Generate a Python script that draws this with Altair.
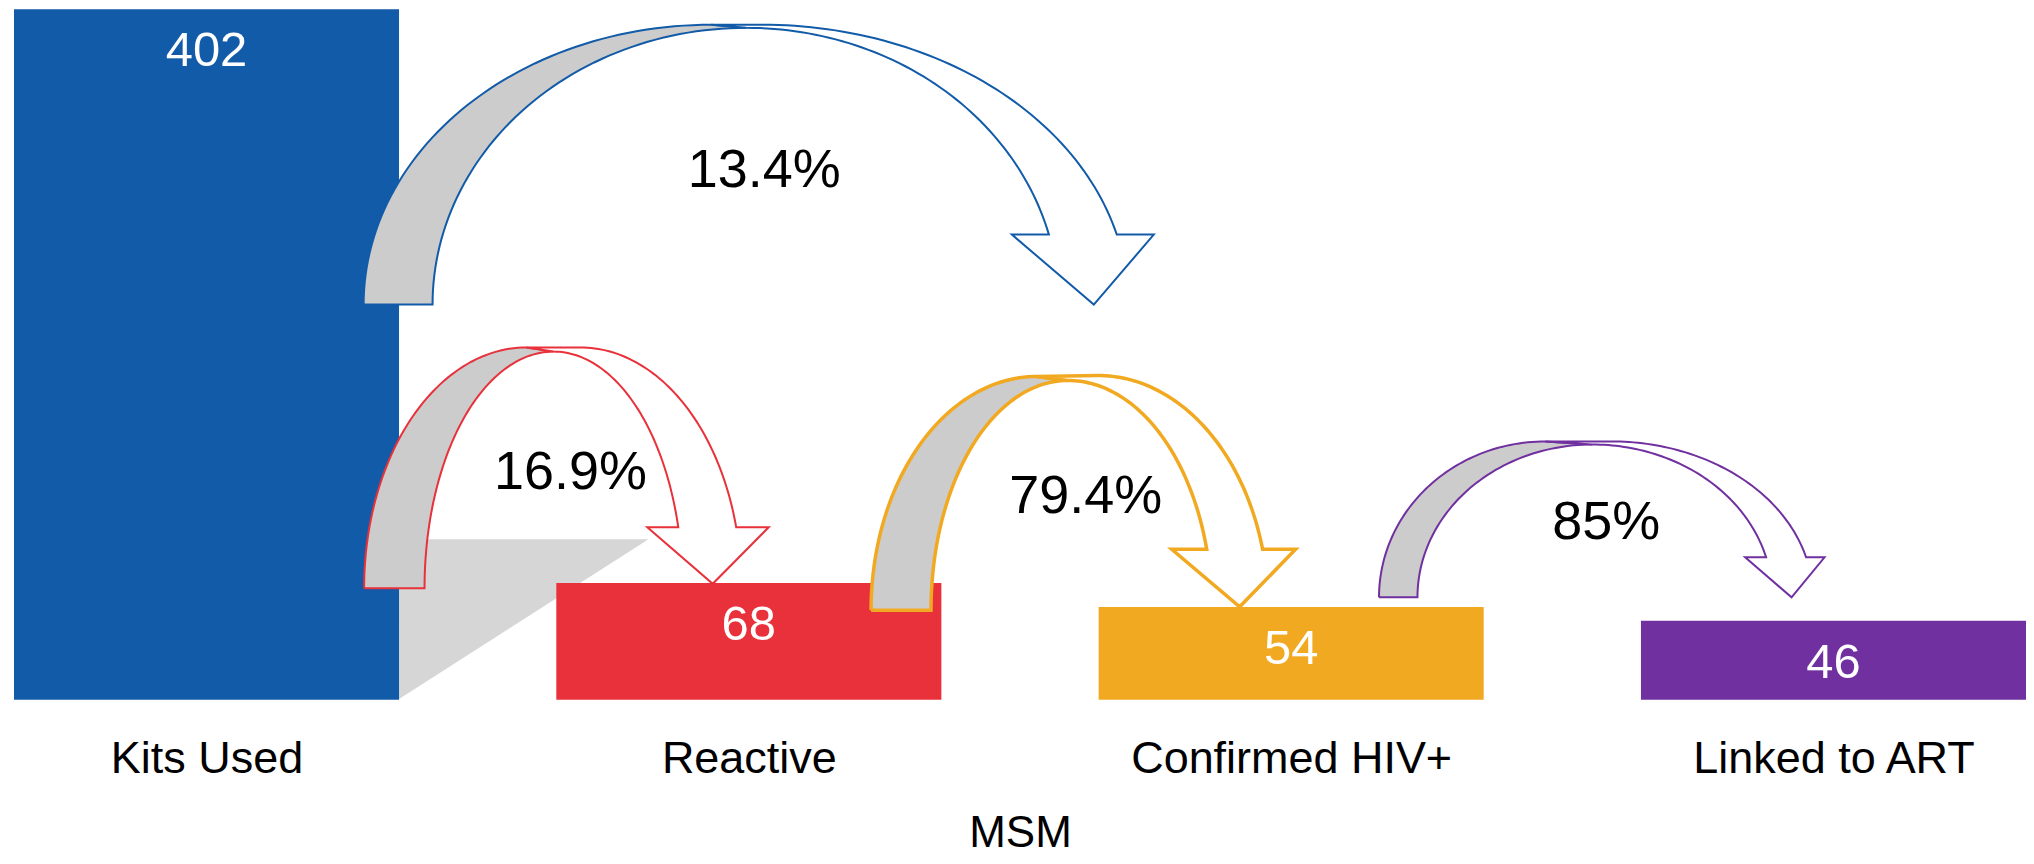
import json
import numpy as np
import pandas as pd
import altair as alt

# ---------------- data ----------------
categories = ["Kits Used", "Reactive", "Confirmed HIV+", "Linked to ART"]
counts = [402, 68, 54, 46]
bar_colors = ["#125BA8", "#E8313A", "#F2A922", "#7030A0"]
pct_labels = ["13.4%", "16.9%", "79.4%", "85%"]
arrow_colors = ["#125BA8", "#E8313A", "#F2A922", "#7030A0"]
group_title = "MSM"

# ---------------- layout (data units: x = bar slots, y = counts) ----------------
STEP = 1.0
BAR_W = 0.71
X_MAX = 3 * STEP + BAR_W
Y_MAX = 402.5
FONT = "Liberation Sans"

# curved-ribbon arrow geometry
ARROWS = [
    dict(base=230.1, go_l=0.6447, go_x=1.2857, go_y=393.0, gi_r=0.7718, gi_x=1.3502, gi_y=391.2,
         wo_x=1.3796, wo_y=393.0, wo_end=2.0335, wi_end=1.9083, sh_y=270.8, sh_l=1.8401, sh_r=2.1017,
         tip_x=1.9911, tip_y=230.1, lab_x=1.3833, lab_y=298.7, sw=2.0),
    dict(base=64.9, go_l=0.6456, go_x=0.9449, go_y=205.1, gi_r=0.7570, gi_x=0.9947, gi_y=202.7,
         wo_x=1.0444, wo_y=205.1, wo_end=1.3317, wi_end=1.2249, sh_y=100.4, sh_l=1.1678, sh_r=1.3916,
         tip_x=1.2884, tip_y=67.5, lab_x=1.0260, lab_y=122.5, sw=2.0),
    dict(base=52.1, go_l=1.5804, go_x=1.8862, go_y=188.2, gi_r=1.6909, gi_x=1.9433, gi_y=185.9,
         wo_x=1.9985, wo_y=188.8, wo_end=2.3024, wi_end=2.1993, sh_y=87.6, sh_l=2.1348, sh_r=2.3632,
         tip_x=2.2601, tip_y=54.1, lab_x=1.9764, lab_y=108.5, sw=3.5),
    dict(base=59.6, go_l=2.5170, go_x=2.8237, go_y=150.4, gi_r=2.5879, gi_x=2.9103, gi_y=148.6,
         wo_x=2.9453, wo_y=150.4, wo_end=3.3045, wi_end=3.2308, sh_y=82.9, sh_l=3.1921, sh_r=3.3385,
         tip_x=3.2777, tip_y=59.6, lab_x=2.9361, lab_y=93.4, sw=2.0),
]

# ---------------- tables ----------------
bars = pd.DataFrame({
    "cat": categories,
    "count": counts,
    "color": bar_colors,
    "zero": [0] * 4,
    "x0": [i * STEP for i in range(4)],
    "x1": [i * STEP + BAR_W for i in range(4)],
    "xc": [i * STEP + BAR_W / 2 for i in range(4)],
})


def ellipse(cx, cy, a, b, t0, t1, n=60):
    t = np.linspace(t0, t1, n)
    return list(zip(cx + a * np.cos(t), cy + b * np.sin(t)))


gray_rows, white_rows, lab_rows = [], [], []
for k, g in enumerate(ARROWS):
    base = g["base"]
    # back (gray) face
    outer = ellipse(g["go_x"], base, g["go_x"] - g["go_l"], g["go_y"] - base, np.pi, np.pi / 2)
    inner = ellipse(g["gi_x"], base, g["gi_x"] - g["gi_r"], g["gi_y"] - base, np.pi / 2, np.pi)
    pts = outer + inner + [outer[0]]
    for j, (px, py) in enumerate(pts):
        gray_rows.append(dict(shape=k, k=j, x=px, y=py, stroke=arrow_colors[k], sw=g["sw"]))
    # front (white) face with arrow head
    bo = g["wo_y"] - base
    to = np.arcsin((g["sh_y"] - base) / bo)
    ao = (g["wo_end"] - g["wo_x"]) / np.cos(to)
    bi = g["gi_y"] - base
    ti = np.arcsin((g["sh_y"] - base) / bi)
    ai = (g["wi_end"] - g["gi_x"]) / np.cos(ti)
    w_outer = ellipse(g["wo_x"], base, ao, bo, np.pi / 2, to)
    w_inner = ellipse(g["gi_x"], base, ai, bi, ti, np.pi / 2)
    pts = ([(g["go_x"], g["go_y"])] + w_outer +
           [(g["sh_r"], g["sh_y"]), (g["tip_x"], g["tip_y"]), (g["sh_l"], g["sh_y"])] +
           w_inner + [(g["go_x"], g["go_y"])])
    for j, (px, py) in enumerate(pts):
        white_rows.append(dict(shape=k, k=j, x=px, y=py, stroke=arrow_colors[k], sw=g["sw"]))
    lab_rows.append(dict(x=g["lab_x"], y=g["lab_y"], text=pct_labels[k]))

gray_df = pd.DataFrame(gray_rows)
white_df = pd.DataFrame(white_rows)
lab_df = pd.DataFrame(lab_rows)

# perspective shadow cast by the first bar
shadow_df = pd.DataFrame({
    "k": [0, 1, 2, 3],
    "x": [BAR_W, BAR_W + 0.46, BAR_W, BAR_W],
    "y": [93.4, 93.4, 0.5, 93.4],
})

# ---------------- encodings ----------------
xs = alt.Scale(domain=[0, X_MAX], nice=False, zero=False)
ys = alt.Scale(domain=[0, Y_MAX], nice=False, zero=False)

label_expr = json.dumps(categories) + "[round(datum.value)]"
x_axis = alt.Axis(
    values=[i * STEP + BAR_W / 2 for i in range(4)],
    labelExpr=label_expr,
    domain=False, ticks=False, grid=False,
    labelFont=FONT, labelFontSize=45, labelColor="#000000", labelPadding=37,
    labelFlush=False, labelOverlap=False, labelLimit=0,
    title=group_title, titleFont=FONT, titleFontSize=44, titleFontWeight="normal",
    titleColor="#000000", titlePadding=30,
)

shadow = alt.Chart(shadow_df).mark_line(fill="#cccccc", stroke="#cccccc", strokeWidth=0, opacity=0.8).encode(
    x=alt.X("x:Q", scale=xs, axis=x_axis),
    y=alt.Y("y:Q", scale=ys, axis=None),
    order=alt.Order("k:Q"),
)

bar_layer = alt.Chart(bars).mark_rect().encode(
    x=alt.X("x0:Q", scale=xs),
    x2="x1:Q",
    y=alt.Y("zero:Q", scale=ys),
    y2="count:Q",
    color=alt.Color("color:N", scale=None),
)

gray_layer = alt.Chart(gray_df).mark_line(fill="#cccccc").encode(
    x=alt.X("x:Q", scale=xs),
    y=alt.Y("y:Q", scale=ys),
    detail="shape:N",
    order=alt.Order("k:Q"),
    stroke=alt.Stroke("stroke:N", scale=None),
    strokeWidth=alt.StrokeWidth("sw:Q", scale=None),
)

white_layer = alt.Chart(white_df).mark_line(fill="#ffffff").encode(
    x=alt.X("x:Q", scale=xs),
    y=alt.Y("y:Q", scale=ys),
    detail="shape:N",
    order=alt.Order("k:Q"),
    stroke=alt.Stroke("stroke:N", scale=None),
    strokeWidth=alt.StrokeWidth("sw:Q", scale=None),
)

value_text = alt.Chart(bars).mark_text(
    font=FONT, fontSize=49, color="#ffffff", baseline="alphabetic", align="center", dy=57
).encode(
    x=alt.X("xc:Q", scale=xs),
    y=alt.Y("count:Q", scale=ys),
    text="count:Q",
)

pct_text = alt.Chart(lab_df).mark_text(
    font=FONT, fontSize=54, color="#000000", baseline="alphabetic", align="center"
).encode(
    x=alt.X("x:Q", scale=xs),
    y=alt.Y("y:Q", scale=ys),
    text="text:N",
)

chart = alt.layer(shadow, bar_layer, gray_layer, white_layer, value_text, pct_text).properties(
    width=2014,
    height=692,
    autosize=alt.AutoSizeParams(type="none"),
    padding={"left": 6, "top": 0, "right": 0, "bottom": 156},
    background="#ffffff",
).configure_view(stroke=None)

chart.save("out.html", embed_options={"renderer": "svg", "actions": False})
